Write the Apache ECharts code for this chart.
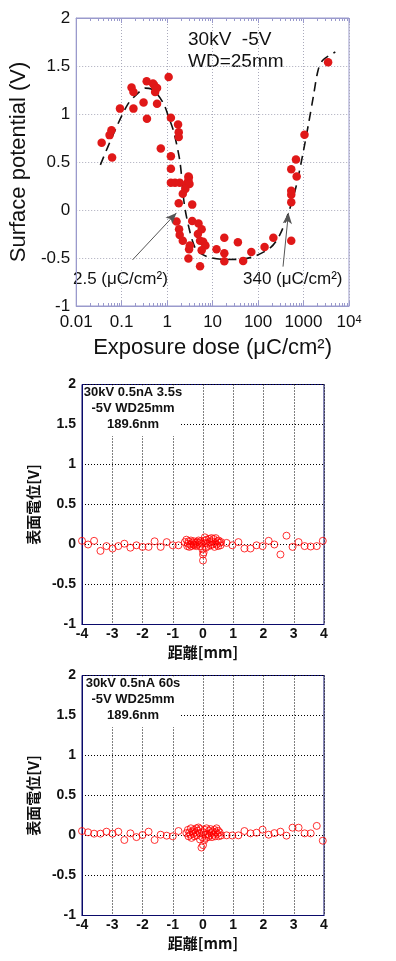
<!DOCTYPE html>
<html><head><meta charset="utf-8">
<script src="https://cdn.jsdelivr.net/npm/echarts@6/dist/echarts.min.js"></script>
<style>html,body{margin:0;padding:0;background:#fff}#c{width:396px;height:961px}</style>
</head><body><div id="c"></div>
<script>
// ---- Data ----
const dosePoints = [
  [0.0363,0.70],[0.0542,0.78],[0.0597,0.83],[0.0616,0.546],[0.0918,1.056],[0.165,1.275],[0.1816,1.23],
  [0.1816,1.056],[0.303,1.12],[0.355,1.34],[0.36,0.95],[0.489,1.317],[0.52,1.30],[0.545,1.23],[0.6,1.27],
  [0.6,1.108],[0.726,0.64],[1.08,1.385],[1.21,0.96],[1.21,0.56],[1.21,0.43],[1.74,0.89],[1.8,0.81],[1.8,0.76],
  [3.0,0.34],[1.21,0.285],[1.49,0.285],[1.89,0.285],[2.94,0.35],[2.94,0.31],[2.67,0.27],[3.1,0.27],[2.51,0.22],
  [2.21,0.17],[1.8,0.07],[3.56,0.056],[1.61,-0.12],[3.56,-0.115],[4.9,-0.14],[1.83,-0.2],[5.75,-0.2],[1.89,-0.26],
  [4.75,-0.25],[2.21,-0.32],[5.3,-0.32],[6.2,-0.33],[3.15,-0.37],[6.96,-0.37],[3.04,-0.41],[5.75,-0.42],
  [2.94,-0.506],[5.3,-0.587],[18.1,-0.29],[12.2,-0.41],[18.1,-0.45],[18.1,-0.535],[36,-0.336],[47,-0.53],
  [71,-0.437],[139,-0.385],[217,-0.29],[537,-0.32],[3470,1.54],[1050,0.785],[682,0.525],[537,0.424],
  [706,0.35],[537,0.2],[537,0.16],[537,0.08]
];
const fitCurve = [
  [0.034,0.47],[0.067,0.80],[0.136,1.10],[0.22,1.21],[0.33,1.27],[0.45,1.26],[0.6,1.21],[0.85,1.10],
  [1.08,0.97],[1.37,0.83],[1.61,0.69],[1.89,0.52],[2.05,0.38],[2.2,0.2],[2.5,0.0],[3.0,-0.18],[3.6,-0.32],
  [4.5,-0.42],[7.9,-0.49],[20,-0.515],[46,-0.51],[86,-0.48],[190,-0.39],[300,-0.26],[458,-0.04],[682,0.24],
  [1000,0.62],[1290,0.9],[1640,1.18],[2090,1.455],[2650,1.56],[5000,1.646]
];
const arrowLow = [[0.173,-0.52],[1.6,-0.03]];
const arrowHigh = [[354,-0.59],[466,-0.03]];
const doseTickLabels = ['0.01','0.1','1','10','100','1000','10{s|4}'];

const panelAPoints = [
  [-4.0,0.046],[-3.8,0.0],[-3.6,0.046],[-3.39,-0.08],[-3.19,-0.02],[-2.99,-0.05],[-2.8,-0.02],[-2.6,0.01],
  [-2.4,-0.04],[-2.2,-0.01],[-2.0,-0.03],[-1.8,-0.03],[-1.6,0.04],[-1.4,-0.03],[-1.2,0.03],[-1.0,-0.01],
  [-0.81,-0.01],
  [-0.6,0.03],[-0.55,0.06],[-0.52,-0.02],[-0.5,0.01],[-0.48,0.04],[-0.45,-0.03],[-0.42,0.0],[-0.4,0.05],
  [-0.38,-0.02],[-0.35,0.02],[-0.32,0.0],[-0.3,0.04],[-0.28,-0.01],[-0.25,0.02],[-0.22,-0.02],[-0.2,0.03],
  [-0.18,0.0],[-0.15,0.05],[-0.12,0.02],[-0.1,-0.02],[-0.08,0.04],[-0.05,0.01],[-0.02,-0.06],[0.0,-0.125],
  [0.0,-0.2],[0.02,-0.1],[0.04,0.05],[0.06,0.09],[0.08,0.02],[0.1,-0.04],[0.12,0.06],[0.15,0.01],[0.18,-0.02],
  [0.2,0.07],[0.22,0.03],[0.25,-0.01],[0.28,0.08],[0.3,0.04],[0.32,0.0],[0.35,0.07],[0.38,-0.03],[0.4,0.02],
  [0.42,0.08],[0.45,0.0],[0.48,0.04],[0.5,-0.02],[0.52,0.05],[0.55,0.02],[0.58,-0.01],[0.6,0.03],
  [0.78,0.02],[0.97,-0.01],[1.17,0.03],[1.37,-0.05],[1.57,-0.05],[1.77,-0.01],[1.97,-0.02],[2.17,0.046],
  [2.36,0.0],[2.56,-0.125],[2.76,0.11],[2.96,-0.03],[3.16,0.03],[3.36,-0.02],[3.56,-0.025],[3.76,-0.02],[3.96,0.046]
];
const panelBPoints = [
  [-4.0,0.056],[-3.8,0.04],[-3.6,0.023],[-3.39,0.023],[-3.19,0.048],[-2.99,0.023],[-2.8,0.048],[-2.6,-0.056],
  [-2.4,0.027],[-2.2,-0.02],[-2.0,0.006],[-1.8,0.048],[-1.6,-0.056],[-1.4,0.01],[-1.2,-0.002],[-1.0,-0.01],
  [-0.81,0.056],
  [-0.55,0.03],[-0.5,0.07],[-0.48,-0.01],[-0.45,0.04],[-0.42,0.01],[-0.4,0.09],[-0.38,-0.03],[-0.35,0.05],
  [-0.32,0.02],[-0.3,0.07],[-0.28,-0.01],[-0.25,0.04],[-0.22,0.09],[-0.2,0.0],[-0.18,0.06],[-0.15,0.1],
  [-0.12,0.03],[-0.1,-0.05],[-0.08,0.08],[-0.05,-0.15],[-0.03,-0.02],[0.0,-0.12],[0.02,0.04],[0.04,-0.06],
  [0.06,0.07],[0.08,0.01],[0.1,-0.03],[0.12,0.09],[0.15,0.02],[0.18,-0.02],[0.2,0.06],[0.22,0.0],[0.25,0.08],
  [0.28,0.03],[0.3,-0.02],[0.32,0.05],[0.35,0.01],[0.38,0.07],[0.4,-0.01],[0.42,0.04],[0.45,0.09],[0.48,0.02],
  [0.5,0.06],[0.52,-0.01],[0.55,0.04],[0.6,0.0],
  [0.78,0.002],[0.97,0.0],[1.17,0.002],[1.37,0.056],[1.57,0.027],[1.77,0.035],[1.97,0.073],[2.17,0.01],
  [2.36,0.03],[2.56,0.048],[2.76,-0.002],[2.96,0.098],[3.16,0.098],[3.36,0.027],[3.56,0.027],[3.76,0.12],[3.96,-0.065]
];
const panelATitle = ['30kV 0.5nA 3.5s','-5V WD25mm','189.6nm'];
const panelBTitle = ['30kV 0.5nA 60s','-5V WD25mm','189.6nm'];

// ---- Chart ----
const SANS = 'Liberation Sans, Arial, sans-serif';
const TOPC = '#9a9acc';
const chart = echarts.init(document.getElementById('c'), null, {renderer:'canvas'});

function panelX(grid, name){
  return {
    type:'value', gridIndex:grid, min:-4, max:4, interval:1,
    axisLine:{show:true, onZero:false, lineStyle:{color:'#0a0a6a', width:1}},
    axisTick:{show:false},
    splitLine:{show:true, lineStyle:{color:'#000', type:[1,2], width:1}},
    axisLabel:{color:'#111', fontFamily:SANS, fontWeight:'bold', fontSize:14, margin:3},
    name:name, nameLocation:'middle', nameGap:20,
    nameTextStyle:{color:'#111', fontFamily:'Noto Sans CJK JP', fontWeight:'bold', fontSize:15}
  };
}
function panelY(grid, name){
  return {
    type:'value', gridIndex:grid, min:-1, max:2, interval:0.5,
    axisLine:{show:true, onZero:false, lineStyle:{color:'#0a0a6a', width:1}},
    axisTick:{show:false},
    splitLine:{show:true, lineStyle:{color:'#000', type:[1,2], width:1}},
    axisLabel:{color:'#111', fontFamily:SANS, fontWeight:'bold', fontSize:14, margin:6},
    name:name, nameLocation:'middle', nameGap:28,
    nameTextStyle:{color:'#111', fontFamily:'Noto Sans CJK JP', fontWeight:'bold', fontSize:15}
  };
}
function panelText(lines, top, bottomEdge){
  const els = [{type:'rect', z:5, shape:{x:83, y:top+1, width:98, height:bottomEdge-top-1}, style:{fill:'#fff'}}];
  lines.forEach((t,i)=>{
    els.push({type:'text', z:6, x:133, y:top+8+i*16, style:{text:t, font:'bold 13px '+SANS, fill:'#111', align:'center', verticalAlign:'middle'}});
  });
  return els;
}
const logLabel = v => doseTickLabels[Math.round(Math.log10(v)) + 2];

const option = {
  animation:false,
  backgroundColor:'#fff',
  grid:[
    {left:60, top:18, width:289, height:288, show:true, borderColor:TOPC, borderWidth:1, backgroundColor:'transparent'},
    {left:82, top:384.5, width:242, height:240, show:true, borderColor:'#0a0a6a', borderWidth:1, backgroundColor:'transparent'},
    {left:82, top:675.5, width:242, height:240, show:true, borderColor:'#0a0a6a', borderWidth:1, backgroundColor:'transparent'}
  ],
  xAxis:[
    {type:'log', gridIndex:0, min:0.01, max:10000, logBase:10,
     axisLine:{show:true, onZero:false, lineStyle:{color:TOPC}},
     axisTick:{show:true, inside:true, length:5, lineStyle:{color:TOPC}},
     minorTick:{show:true, splitNumber:9, length:3, lineStyle:{color:TOPC}},
     splitLine:{show:true, lineStyle:{color:'#aab', type:[1,2]}},
     axisLabel:{color:'#111', fontFamily:SANS, fontSize:17, margin:8, formatter:logLabel,
       rich:{s:{fontSize:11, fontFamily:SANS, color:'#111', verticalAlign:'top'}}},
     name:'Exposure dose (\u03bcC/cm\u00b2)', nameLocation:'middle', nameGap:31,
     nameTextStyle:{color:'#111', fontFamily:SANS, fontSize:22}},
    {type:'log', gridIndex:0, position:'top', min:0.01, max:10000, logBase:10,
     axisLine:{show:true, onZero:false, lineStyle:{color:TOPC}},
     axisTick:{show:true, inside:true, length:5, lineStyle:{color:TOPC}},
     minorTick:{show:true, splitNumber:9, length:3, lineStyle:{color:TOPC}},
     splitLine:{show:false}, axisLabel:{show:false}},
    panelX(1, '距離[mm]'),
    panelX(2, '距離[mm]')
  ],
  yAxis:[
    {type:'value', gridIndex:0, min:-1, max:2, interval:0.5,
     axisLine:{show:true, onZero:false, lineStyle:{color:TOPC}},
     axisTick:{show:false},
     splitLine:{show:true, lineStyle:{color:'#aab', type:[1,2]}},
     axisLabel:{color:'#111', fontFamily:SANS, fontSize:17, margin:6},
     name:'Surface potential (V)', nameLocation:'middle', nameGap:36,
     nameTextStyle:{color:'#111', fontFamily:SANS, fontSize:22}},
    panelY(1, '表面電位[V]'),
    panelY(2, '表面電位[V]')
  ],
  graphic:[
    {type:'text', x:188, y:40, style:{text:'30kV  -5V', font:'19px '+SANS, fill:'#111', verticalAlign:'middle'}},
    {type:'text', x:188, y:62, style:{text:'WD=25mm', font:'19px '+SANS, fill:'#111', verticalAlign:'middle'}},
    {type:'text', x:73, y:279, style:{text:'2.5 (\u03bcC/cm\u00b2)', font:'17px '+SANS, fill:'#111', verticalAlign:'middle'}},
    {type:'text', x:243, y:279, style:{text:'340 (\u03bcC/cm\u00b2)', font:'17px '+SANS, fill:'#111', verticalAlign:'middle'}},
    ...panelText(panelATitle, 384.5, 436),
    ...panelText(panelBTitle, 675.5, 727)
  ],
  series:[
    {type:'line', xAxisIndex:0, yAxisIndex:0, data:fitCurve, showSymbol:false, smooth:0.3, z:3,
     lineStyle:{color:'#111', width:1.6, type:[9,6]}, silent:true,
     markLine:{silent:true, symbol:'none', label:{show:false}, animation:false,
       data:[
         [{yAxis:0, symbol:'none', lineStyle:{color:'#9a9acc', type:'solid', width:1}}, {yAxis:0, symbol:'none'}],
         [{coord:arrowLow[0], symbol:'none', lineStyle:{color:'#555', type:'solid', width:1}}, {coord:arrowLow[1], symbol:'arrow', symbolSize:[7,11]}],
         [{coord:arrowHigh[0], symbol:'none', lineStyle:{color:'#555', type:'solid', width:1}}, {coord:arrowHigh[1], symbol:'arrow', symbolSize:[7,11]}]
       ]}},
    {type:'scatter', xAxisIndex:0, yAxisIndex:0, data:dosePoints, symbolSize:8.5, z:4,
     itemStyle:{color:'#e01818', opacity:1}},
    {type:'scatter', xAxisIndex:2, yAxisIndex:1, data:panelAPoints, symbol:'circle', symbolSize:7, z:4,
     itemStyle:{color:'rgba(0,0,0,0)', borderColor:'#f00', borderWidth:1}},
    {type:'scatter', xAxisIndex:3, yAxisIndex:2, data:panelBPoints, symbol:'circle', symbolSize:7, z:4,
     itemStyle:{color:'rgba(0,0,0,0)', borderColor:'#f00', borderWidth:1}}
  ]
};
chart.setOption(option);
</script></body></html>
